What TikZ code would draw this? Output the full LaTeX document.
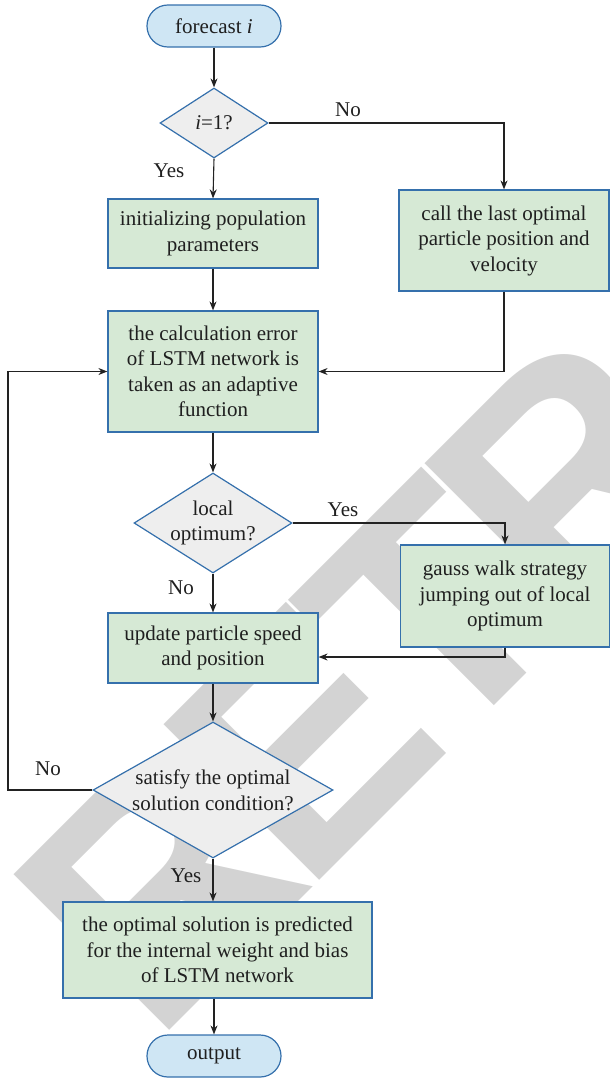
\documentclass[tikz,border=0pt]{standalone}
\usepackage{fontspec}
\setmainfont{Liberation Serif}
\newfontfamily\wmfam{Liberation Sans}[LetterSpace=-6]
\usetikzlibrary{shapes.geometric,arrows.meta}
\definecolor{boxfill}{HTML}{D6E9D5}
\definecolor{edgeblue}{HTML}{3570AC}
\definecolor{decfill}{HTML}{EEEEEE}
\definecolor{termfill}{HTML}{CFE6F4}
\definecolor{linecol}{HTML}{222222}
\definecolor{wmgray}{HTML}{D3D3D3}
\tikzset{
  base/.style={font=\fontsize{21}{25.5}\selectfont, align=center, text=black!88},
  procbox/.style={base, rectangle, draw=edgeblue, fill=boxfill, line width=1.2pt, inner sep=0pt},
  term/.style={base, rectangle, rounded corners=20.9pt, draw=edgeblue, fill=termfill, line width=1.2pt,
     minimum width=134, minimum height=42, inner sep=0pt},
  dec/.style={diamond, draw=edgeblue, fill=decfill, line width=1.2pt, inner sep=0pt},
  arr/.style={draw=linecol, line width=1.1pt, -{Stealth[length=9pt,width=7pt]}},
  lab/.style={base}
}
\begin{document}
\begin{tikzpicture}[x=1pt,y=-1pt]
\useasboundingbox (0,0) rectangle (610,1079);
\begin{scope}
\clip (0,0) rectangle (610,1079);
\node[rotate=45, anchor=base west, text=wmgray, inner sep=0pt,
  font=\wmfam\bfseries\fontsize{320}{320}\selectfont] (wm) at (154,1046) {RETRACTED};
\end{scope}

\node[term] (f) at (214,26) {forecast {\itshape i}};
\node[dec, minimum width=108, minimum height=70, label={[base]center:{\itshape i}=1?}] (d1) at (214,123) {};
\node[procbox, minimum width=210, minimum height=101] (call) at (504,240.5) {call the last optimal\\particle position and\\velocity};
\node[procbox, minimum width=210, minimum height=69] (init) at (213,233.5) {initializing population\\parameters};
\node[procbox, minimum width=210, minimum height=121] (calc) at (213,371.5) {the calculation error\\of LSTM network is\\taken as an adaptive\\function};
\node[dec, minimum width=158, minimum height=100, label={[base]center:local\\optimum?}] (d2) at (213,523) {};
\node[procbox, minimum width=209, minimum height=102] (gauss) at (505,596) {gauss walk strategy\\jumping out of local\\optimum};
\node[procbox, minimum width=210, minimum height=70] (upd) at (213,648) {update particle speed\\and position};
\node[dec, minimum width=240, minimum height=136, label={[base]center:satisfy the optimal\\solution condition?}] (d3) at (213,790) {};
\node[procbox, minimum width=309, minimum height=96] (fin) at (217.5,950) {the optimal solution is predicted\\for the internal weight and bias\\of LSTM network};
\node[term] (out) at (214,1056) {output};
\coordinate (lp) at (8,580);

\node[lab] (no1) at (348,110) {No};
\node[lab] (yes1) at (169,171) {Yes};
\node[lab] (yes2) at (343,510) {Yes};
\node[lab] (no2) at (181,588) {No};
\node[lab] (no3) at (48,769) {No};
\node[lab] (yes3) at (186,876) {Yes};

\draw[arr] (f) -- (d1);
\draw[arr] (d1.east) -| (call.north);
\draw[arr] (d1.south) -- (init.north);
\draw[arr] (init.south) -- (calc.north);
\draw[arr] (call.south) |- (calc.east);
\draw[arr] (calc.south) -- (d2.north);
\draw[arr] (d2.east) -| (gauss.north);
\draw[arr] (d2.south) -- (upd.north);
\draw[arr] (gauss.south) |- ([yshift=-9pt]upd.east);
\draw[arr] (upd.south) -- (d3.north);
\draw[arr] (d3.west) -| (lp) |- (calc.west);
\draw[arr] (d3.south) -- (d3.south |- fin.north);
\draw[arr] (out.north |- fin.south) -- (out.north);
\end{tikzpicture}
\end{document}
